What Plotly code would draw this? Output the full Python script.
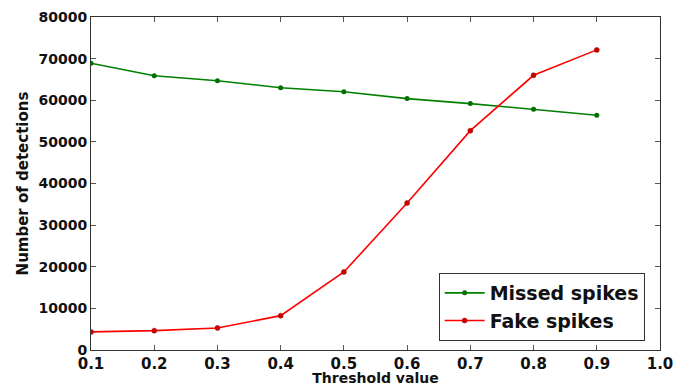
import plotly.graph_objects as go

thresholds = [0.1, 0.2, 0.3, 0.4, 0.5, 0.6, 0.7, 0.8, 0.9]
missed_spikes = [68900, 65900, 64700, 63000, 62050, 60400, 59200, 57850, 56400]
fake_spikes = [4350, 4650, 5300, 8250, 18750, 35300, 52700, 66000, 72100]
x_ticks = [0.1, 0.2, 0.3, 0.4, 0.5, 0.6, 0.7, 0.8, 0.9, 1.0]
x_tick_labels = ["0.1", "0.2", "0.3", "0.4", "0.5", "0.6", "0.7", "0.8", "0.9", "1.0"]
y_ticks = [0, 10000, 20000, 30000, 40000, 50000, 60000, 70000, 80000]
y_tick_labels = ["0", "10000", "20000", "30000", "40000", "50000", "60000", "70000", "80000"]

FONT = "DejaVu Sans"

fig = go.Figure()
fig.add_trace(go.Scatter(
    x=thresholds, y=missed_spikes, name="Missed spikes",
    mode="lines+markers",
    line=dict(color="#008000", width=1.6),
    marker=dict(color="#007000", size=5),
))
fig.add_trace(go.Scatter(
    x=thresholds, y=fake_spikes, name="Fake spikes",
    mode="lines+markers",
    line=dict(color="#ff0000", width=1.6),
    marker=dict(color="#cc0000", size=5, line=dict(color="#990000", width=0.5)),
))

axis_common = dict(
    showgrid=False, zeroline=False, showline=True, linecolor="#333333", linewidth=1,
    mirror="ticks", ticks="inside", ticklen=5, tickcolor="#555555",
    automargin=False,
)

fig.update_layout(
    width=689, height=378,
    margin=dict(l=83, r=37, t=9, b=36),
    paper_bgcolor="white", plot_bgcolor="white",
    font=dict(family=FONT, color="#111111"),
    xaxis=dict(
        range=[0.1, 1.0], tickvals=x_ticks, ticktext=x_tick_labels,
        tickfont=dict(family=FONT, size=15, color="#111111", weight="bold"),
        title=dict(text="Threshold value", font=dict(family=FONT, size=14, weight="bold"), standoff=7),
        **axis_common,
    ),
    yaxis=dict(
        range=[0, 80000], tickvals=y_ticks, ticktext=y_tick_labels,
        tickfont=dict(family=FONT, size=14, color="#111111", weight="bold"),
        title=dict(text="Number of detections", font=dict(family=FONT, size=15, weight="bold"), standoff=6),
        **axis_common,
    ),
    legend=dict(
        x=0.973, y=0.027, xanchor="right", yanchor="bottom",
        bordercolor="#333333", borderwidth=1, bgcolor="white",
        font=dict(family=FONT, size=19, weight="bold", color="#111111"),
        itemwidth=40, tracegroupgap=0,
    ),
    showlegend=True,
)

fig.write_html("out.html")
